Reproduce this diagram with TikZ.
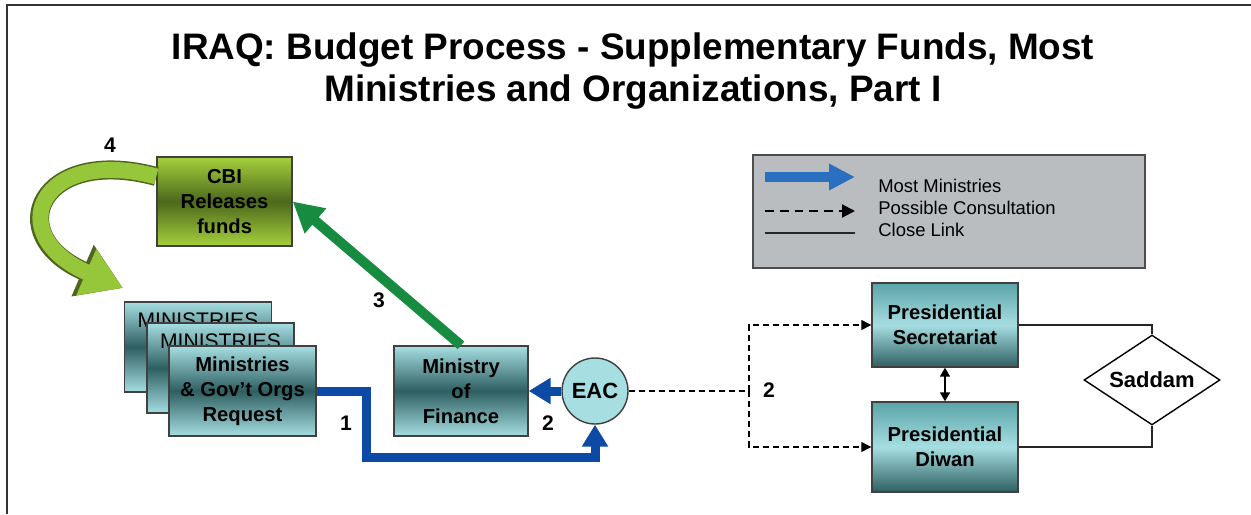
\documentclass[tikz,border=0pt]{standalone}
\usepackage{fontspec}
\setmainfont{Liberation Sans}
\usetikzlibrary{arrows.meta}
\usetikzlibrary{shapes.geometric}
\usetikzlibrary{positioning}
\definecolor{tealL}{HTML}{A6DEE2}
\definecolor{tealD}{HTML}{2E5F61}
\definecolor{tealM}{HTML}{5AA4A7}
\definecolor{grnL}{HTML}{A6D03C}
\definecolor{grnD}{HTML}{4C681C}
\definecolor{flowblue}{HTML}{0C4AA6}
\definecolor{keyblue}{HTML}{2B6FC1}
\definecolor{flowgreen}{HTML}{178B3F}
\definecolor{keygray}{HTML}{B9BDC0}
\definecolor{arcgreen}{HTML}{96C63A}
\definecolor{arcdark}{HTML}{4E6420}
\begin{document}
\begin{tikzpicture}[x=0.02cm,y=-0.02cm,
  every node/.style={inner sep=0pt,align=center},
  box/.style={draw=black!75,line width=0.8pt,font=\bfseries\fontsize{11.5}{14.1}\selectfont,
    minimum width=2.94cm,minimum height=1.8cm,shading angle=45,
    top color=tealL,bottom color=tealL,middle color=tealD},
  stackbox/.style={box,font=\fontsize{12}{14}\selectfont},
  pres/.style={box,minimum width=2.92cm,shading angle=0,top color=tealM,bottom color=tealD,middle color=tealL},
  num/.style={font=\bfseries\fontsize{12}{14}\selectfont},
  flow/.style={flowblue,line width=0.18cm,-{Triangle[length=0.44cm,width=0.5cm]}},
  consult/.style={line width=0.7pt,dash pattern=on 3.4pt off 2.3pt},
  smalltip/.style={-{Triangle[length=0.2cm,width=0.2cm]}}
]
\useasboundingbox (0,0) rectangle (1251,514);
\draw[line width=1.6pt,black!80] (7,514) -- (7,5) -- (1251,5);
\node[font=\bfseries\fontsize{21}{24.4}\selectfont] (title) at (633,71) {IRAQ: Budget Process - Supplementary Funds, Most\\Ministries and Organizations, Part I};

% left side
\node[box,minimum width=2.7cm,minimum height=1.78cm,top color=grnL,bottom color=grnL,middle color=grnD] (cbi) at (224.5,201.5) {CBI\\Releases\\funds};
\node[stackbox,label={[anchor=north,yshift=-0.22cm,font=\fontsize{12}{14}\selectfont]north:MINISTRIES}] (min1) at (198,347) {};
\node[stackbox,label={[anchor=north,yshift=-0.22cm,font=\fontsize{12}{14}\selectfont]north:MINISTRIES}] (min2) at (220.5,368) {};
\node[box] (req) at (242.5,391) {Ministries\\\& Gov’t Orgs\\Request};
\node[box,minimum width=2.68cm] (mof) at (461,391) {Ministry\\of\\Finance};
\node[circle,draw=black!75,line width=0.8pt,fill=tealL,minimum size=1.32cm,font=\bfseries\fontsize{12.5}{14}\selectfont] (eac) at (595,391) {EAC};
\coordinate (drop) at (123,288);

\draw[flow] (req.east) -- ++(50,0) -- ++(0,66) -| (eac.south);
\draw[flow] (eac.west) -- (mof.east);
\draw[flowgreen,line width=0.2cm,-{Triangle[length=0.6cm,width=0.62cm]}] (mof.north) -- (cbi.east);
\draw[arcgreen,line width=0.32cm,-{Triangle[length=0.8cm,width=0.95cm]},
  preaction={draw=arcdark,line width=0.38cm,-{Triangle[length=0.88cm,width=1.06cm]}}]
  ([yshift=0.5cm]cbi.west) .. controls (40,145) and (0,235) .. (drop);

\node[num] (n1) at (346,423) {1};
\node[num] (n2) at (548,423) {2};
\node[num] (n3) at (379,300) {3};
\node[num] (n4) at (110,145) {4};

% key
\node[draw=black!70,line width=1pt,fill=keygray,minimum width=7.84cm,minimum height=2.26cm] (key) at (949,211.5) {};
\coordinate (ka) at (765,177);
\coordinate (kb) at (855,177);
\coordinate (kc) at (765,211);
\coordinate (kd) at (855,211);
\coordinate (ke) at (765,233);
\coordinate (kf) at (855,233);
\draw[keyblue,line width=0.2cm,-{Triangle[length=0.52cm,width=0.5cm]}] (ka) -- (kb);
\draw[line width=1.1pt,dash pattern=on 5pt off 3.4pt,-{Triangle[length=0.26cm,width=0.26cm]}] (kc) -- (kd);
\draw[line width=1.1pt,black!85] (ke) -- (kf);
\node[anchor=west,align=left,font=\fontsize{10.5}{12.5}\selectfont] (keytext) at (878,208) {Most Ministries\\Possible Consultation\\Close Link};

% right side
\node[pres,minimum height=1.68cm] (sec) at (945,325) {Presidential\\Secretariat};
\node[pres] (diw) at (945,447) {Presidential\\Diwan};
\node[diamond,draw,line width=0.8pt,aspect=1.5,minimum width=2.72cm,minimum height=1.8cm,font=\bfseries\fontsize{12.5}{14}\selectfont] (sad) at (1152,380) {Saddam};

\draw[consult] (eac.east) -- (749,391) coordinate (split);
\draw[consult,smalltip] (split) |- (sec.west);
\draw[consult,smalltip] (split) |- (diw.west);
\node[num] (n2b) at (769,390) {2};
\draw[line width=0.8pt,{Triangle[length=0.18cm,width=0.2cm]}-{Triangle[length=0.18cm,width=0.2cm]}] (sec.south) -- (diw.north);
\draw[line width=0.8pt,black!85] (sec.east) -| (sad.north);
\draw[line width=0.8pt,black!85] (diw.east) -| (sad.south);
\end{tikzpicture}
\end{document}
